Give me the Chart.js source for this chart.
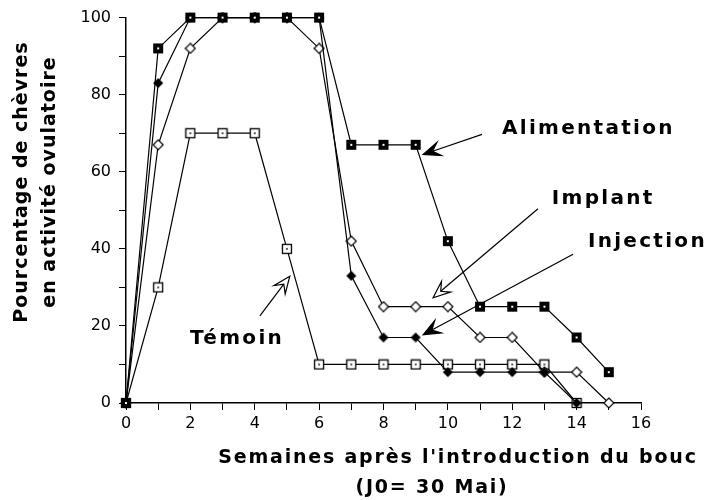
<!DOCTYPE html>
<html>
<head>
<meta charset="utf-8">
<script src="https://cdn.jsdelivr.net/npm/chart.js@4/dist/chart.umd.min.js"></script>
<style>
  body { margin: 0; background: #fff; }
  #wrap { width: 710px; height: 500px; }
</style>
</head>
<body>
<div id="wrap"><canvas id="chart" width="710" height="500"></canvas></div>
<script>
// semaines après l'introduction du bouc
const weeks = [0, 1, 2, 3, 4, 5, 6, 7, 8, 9, 10, 11, 12, 13, 14, 15];

// % de chèvres en activité ovulatoire
const alimentation = [0, 92, 100, 100, 100, 100, 100, 67, 67, 67, 42, 25, 25, 25, 17, 8];
const implant      = [0, 67, 92, 100, 100, 100, 92, 42, 25, 25, 25, 17, 17, 8, 8, 0];
const injection    = [0, 83, 100, 100, 100, 100, 100, 33, 17, 17, 8, 8, 8, 8, 0];
const temoin       = [0, 30, 70, 70, 70, 40, 10, 10, 10, 10, 10, 10, 10, 10, 0];

// textes et flèches (en unités des axes)
const noteLabels = ['Alimentation', 'Implant', 'Injection', 'Témoin'];
const noteTextAt = [[11.68, 69.7], [13.23, 51.7], [14.35, 40.4], [1.99, 15.2]];
const arrowFrom  = [[11.06, 69.7], [12.8, 50.4], [13.89, 38.6], [4.16, 22.6]];
const arrowTo    = [[9.23, 64.5], [9.54, 27.3], [9.23, 17.7], [5.09, 32.9]];
const arrowHollow = [false, true, false, true];

const xTitle = ['Semaines après l\'introduction du bouc', '(J0= 30 Mai)'];
const yTitle = ['Pourcentage de chèvres', 'en activité ovulatoire'];

function toPoints(values) {
    return values.map((v, i) => ({ x: weeks[i], y: v }));
}

// petits marqueurs dessinés à la main
function marker(kind) {
    const c = document.createElement('canvas');
    c.width = 12; c.height = 12;
    const g = c.getContext('2d');
    if (kind === 'filledSquare') {
        g.fillStyle = '#000';
        g.fillRect(1, 1, 10, 10);
        g.fillStyle = '#fff';
        g.fillRect(5, 5, 2, 2);
    } else if (kind === 'openSquare') {
        g.fillStyle = '#fff';
        g.fillRect(1.5, 1.5, 9, 9);
        g.strokeStyle = '#000';
        g.lineWidth = 1.3;
        g.strokeRect(1.5, 1.5, 9, 9);
        g.fillStyle = '#000';
        g.fillRect(5.2, 5.2, 1.6, 1.6);
    } else {
        g.beginPath();
        g.moveTo(6, 1); g.lineTo(11, 6); g.lineTo(6, 11); g.lineTo(1, 6);
        g.closePath();
        if (kind === 'openDiamond') {
            g.fillStyle = '#fff'; g.fill();
            g.strokeStyle = '#000'; g.lineWidth = 1.2; g.stroke();
        } else {
            g.fillStyle = '#000'; g.fill();
        }
    }
    return c;
}

function series(values, kind) {
    return {
        data: toPoints(values),
        borderColor: '#000',
        borderWidth: 1.2,
        pointStyle: marker(kind),
        pointRadius: 6,
        tension: 0,
        clip: false
    };
}

function arrowHead(ctx, tip, from, hollow) {
    const ang = Math.atan2(tip[1] - from[1], tip[0] - from[0]);
    const len = 17, half = 7, notch = 10;
    const pt = (d, s) => [tip[0] - Math.cos(ang) * d - Math.sin(ang) * s,
                          tip[1] - Math.sin(ang) * d + Math.cos(ang) * s];
    const a = pt(len, half), b = pt(notch, 0), c = pt(len, -half);
    ctx.beginPath();
    ctx.moveTo(from[0], from[1]);
    ctx.lineTo(b[0], b[1]);
    ctx.stroke();
    ctx.beginPath();
    ctx.moveTo(tip[0], tip[1]);
    ctx.lineTo(a[0], a[1]);
    ctx.lineTo(b[0], b[1]);
    ctx.lineTo(c[0], c[1]);
    ctx.closePath();
    ctx.fillStyle = hollow ? '#fff' : '#000';
    ctx.fill();
    ctx.stroke();
}

const notesPlugin = {
    id: 'notes',
    afterDraw(chart) {
        const ctx = chart.ctx;
        const xs = chart.scales.x, ys = chart.scales.y;
        const px = p => [xs.getPixelForValue(p[0]), ys.getPixelForValue(p[1])];
        ctx.save();
        ctx.strokeStyle = '#000';
        ctx.lineWidth = 1.2;
        noteLabels.forEach((txt, i) => {
            arrowHead(ctx, px(arrowTo[i]), px(arrowFrom[i]), arrowHollow[i]);
            const t = px(noteTextAt[i]);
            ctx.fillStyle = '#000';
            ctx.font = 'bold 20px "DejaVu Sans"';
            ctx.letterSpacing = '2.3px';
            ctx.textAlign = 'left';
            ctx.textBaseline = 'alphabetic';
            ctx.fillText(txt, t[0], t[1]);
        });

        // titres des axes
        ctx.font = 'bold 19px "DejaVu Sans"';
        ctx.letterSpacing = '1.8px';
        ctx.textAlign = 'center';
        ctx.fillText(xTitle[0], 458, 463);
        ctx.fillText(xTitle[1], 432, 493);

        ctx.translate(0, 182);
        ctx.rotate(-Math.PI / 2);
        ctx.letterSpacing = '1px';
        ctx.textBaseline = 'middle';
        ctx.fillText(yTitle[0], 0, 22);
        ctx.fillText(yTitle[1], 0, 50);
        ctx.restore();
    }
};

const tickFont = { family: 'DejaVu Sans', size: 16 };

new Chart(document.getElementById('chart'), {
    type: 'line',
    data: {
        datasets: [
            series(alimentation, 'filledSquare'),
            series(injection, 'filledDiamond'),
            series(implant, 'openDiamond'),
            series(temoin, 'openSquare')
        ]
    },
    options: {
        responsive: false,
        animation: false,
        layout: { padding: { top: 14, right: 69, left: 0, bottom: 0 } },
        plugins: { legend: { display: false }, tooltip: { enabled: false } },
        scales: {
            x: {
                type: 'linear',
                min: 0,
                max: 16,
                afterFit: s => { s.height = 97; },
                ticks: {
                    stepSize: 1,
                    autoSkip: false,
                    maxRotation: 0,
                    color: '#000',
                    font: tickFont,
                    padding: 4,
                    callback: v => (v % 2 === 0 ? v : '')
                },
                grid: { drawOnChartArea: false, color: '#000', tickLength: 7, lineWidth: 1 },
                border: { color: '#000', width: 1.5 }
            },
            y: {
                min: 0,
                max: 100,
                afterFit: s => { s.width = 126; },
                ticks: {
                    stepSize: 10,
                    color: '#000',
                    font: tickFont,
                    padding: 8,
                    callback: v => (v % 20 === 0 ? v : '')
                },
                grid: { drawOnChartArea: false, color: '#000', tickLength: 7, lineWidth: 1 },
                border: { color: '#000', width: 1.5 }
            }
        }
    },
    plugins: [notesPlugin]
});
</script>
</body>
</html>
